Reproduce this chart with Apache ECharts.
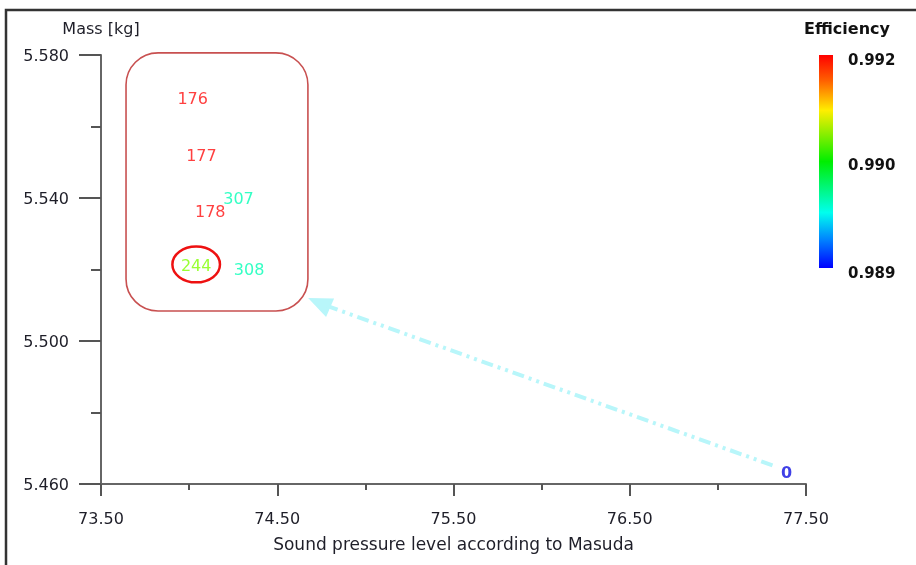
<!DOCTYPE html>
<html><head><meta charset="utf-8">
<script src="https://cdn.jsdelivr.net/npm/echarts@6/dist/echarts.min.js"></script>
<style>html,body{margin:0;padding:0;background:#fff}#c{width:916px;height:565px}</style>
</head><body><div id="c"></div>
<script>
// ---- data ----
const designIds   = ['176', '177', '178', '307', '244', '308', '0'];
const soundLevel  = [74.02, 74.07, 74.12, 74.28, 74.04, 74.34, 77.39];
const massKg      = [5.5674, 5.5515, 5.5358, 5.5394, 5.5207, 5.5196, 5.4628];
const efficiency  = [0.9920, 0.9920, 0.9920, 0.9897, 0.9905, 0.9897, 0.9890];
const legendTicks = ['0.992', '0.990', '0.989'];
const xTicks = [73.5, 74.5, 75.5, 76.5, 77.5];
const yTicks = [5.46, 5.50, 5.54, 5.58];

const FONT = 'DejaVu Sans';
const rainbow = ['#1010e0', '#00ffee', '#00ff60', '#80ff00', '#ffff00', '#ff8000', '#ff1010'];

const points = designIds.map((id, i) => ({
  name: id,
  value: [soundLevel[i], massKg[i], efficiency[i]],
  label: id === '0' ? { fontWeight: 'bold', fontSize: 16 } : {}
}));

const chart = echarts.init(document.getElementById('c'));
const option = {
  animation: false,
  backgroundColor: '#fff',
  grid: { left: 101, right: 110, top: 55, bottom: 81 },
  xAxis: {
    type: 'value', min: xTicks[0], max: xTicks[xTicks.length - 1], interval: 1,
    name: 'Sound pressure level according to Masuda',
    nameLocation: 'middle', nameGap: 62,
    nameTextStyle: { fontFamily: FONT, fontSize: 17, color: '#1e1e28', verticalAlign: 'middle' },
    axisLine: { lineStyle: { color: '#666', width: 2 } },
    axisTick: { show: true, length: 12, lineStyle: { color: '#555', width: 2 } },
    minorTick: { show: true, splitNumber: 2, length: 6, lineStyle: { color: '#555', width: 2 } },
    splitLine: { show: false },
    axisLabel: { fontFamily: FONT, fontSize: 16, color: '#1e1e28', margin: 28,
      formatter: v => v.toFixed(2) }
  },
  yAxis: {
    type: 'value', min: yTicks[0], max: yTicks[yTicks.length - 1], interval: 0.04,
    name: 'Mass [kg]', nameLocation: 'end', nameGap: 25,
    nameTextStyle: { fontFamily: FONT, fontSize: 16, color: '#1e1e28', verticalAlign: 'middle' },
    axisLine: { lineStyle: { color: '#666', width: 2 } },
    axisTick: { show: true, length: 22, lineStyle: { color: '#555', width: 2 } },
    minorTick: { show: true, splitNumber: 2, length: 10, lineStyle: { color: '#555', width: 2 } },
    splitLine: { show: false },
    axisLabel: { fontFamily: FONT, fontSize: 16, color: '#1e1e28', margin: 32,
      verticalAlign: 'top', padding: [-6, 0, 0, 0],
      formatter: v => v.toFixed(3) }
  },
  visualMap: {
    show: false, type: 'continuous', dimension: 2,
    min: 0.989, max: 0.992, inRange: { color: rainbow }
  },
  series: [{
    type: 'scatter',
    symbolSize: 0,
    data: points,
    label: {
      show: true, position: 'inside', color: 'inherit',
      fontFamily: FONT, fontSize: 16,
      formatter: p => p.name
    },
    markLine: {
      silent: true, symbol: ['none', 'none'],
      label: { show: false },
      lineStyle: { color: '#b8f6fa', width: 4, type: [12, 5, 3, 5, 3, 5], opacity: 1 },
      data: [[{ coord: [77.31, 5.4652] }, { coord: [74.76, 5.5102] }]]
    }
  }]
};
chart.setOption(option);

// ---- annotations (defined in data space, converted to pixels) ----
const P = (x, y) => chart.convertToPixel({ gridIndex: 0 }, [x, y]);
const boxTL = P(73.642, 5.5806), boxBR = P(74.674, 5.5084);
const ell = P(74.04, 5.5214), ellR = P(74.175, 5.5164);
const arrTip = P(74.675, 5.5120), arrBase = P(74.80, 5.5093);

// arrow head
const dx = arrTip[0] - arrBase[0], dy = arrTip[1] - arrBase[1];
const len = Math.hypot(dx, dy), ux = dx / len, uy = dy / len;
const headLen = 24, headW = 10;
const bx = arrTip[0] - ux * headLen, by = arrTip[1] - uy * headLen;
const head = [arrTip, [bx - uy * headW, by + ux * headW], [bx + uy * headW, by - ux * headW]];

// legend bar geometry
const barX = 819, barTop = 55, barBot = 268, barW = 14;
const legendY = [barTop + 6, (barTop + barBot) / 2 + 5, barBot + 6];

chart.setOption({
  graphic: [
    // outer frame (left and top edges)
    { type: 'polyline', shape: { points: [[6, 565], [6, 10], [916, 10]] },
      style: { stroke: '#333', lineWidth: 2.5, fill: null } },
    // rounded annotation box
    { type: 'rect', shape: { x: boxTL[0], y: boxTL[1], width: boxBR[0] - boxTL[0], height: boxBR[1] - boxTL[1], r: 32 },
      style: { stroke: '#c85050', lineWidth: 1.6, fill: null } },
    // ellipse around 244
    { type: 'ellipse', shape: { cx: ell[0], cy: ell[1], rx: ellR[0] - ell[0], ry: ellR[1] - ell[1] },
      style: { stroke: '#ee1111', lineWidth: 2.5, fill: null } },
    // arrow head
    { type: 'polygon', shape: { points: head }, style: { fill: '#b8f6fa' } },
    // legend title
    { type: 'text', x: 847, y: 30, style: { text: 'Efficiency', font: 'bold 16px "DejaVu Sans"', fill: '#111', align: 'center', verticalAlign: 'middle' } },
    // legend gradient bar
    { type: 'rect', shape: { x: barX, y: barTop, width: barW, height: barBot - barTop },
      style: { fill: new echarts.graphic.LinearGradient(0, 0, 0, 1, [
        { offset: 0, color: '#ff0000' }, { offset: 0.12, color: '#ff6000' },
        { offset: 0.26, color: '#ffee00' }, { offset: 0.5, color: '#00ee00' },
        { offset: 0.74, color: '#00ffee' }, { offset: 0.87, color: '#0080ff' },
        { offset: 1, color: '#0000ff' }]) } },
    ...legendTicks.map((t, i) => ({ type: 'text', x: 848, y: legendY[i],
      style: { text: t, font: 'bold 15px "DejaVu Sans"', fill: '#111', align: 'left', verticalAlign: 'middle' } }))
  ]
});
</script>
</body></html>
